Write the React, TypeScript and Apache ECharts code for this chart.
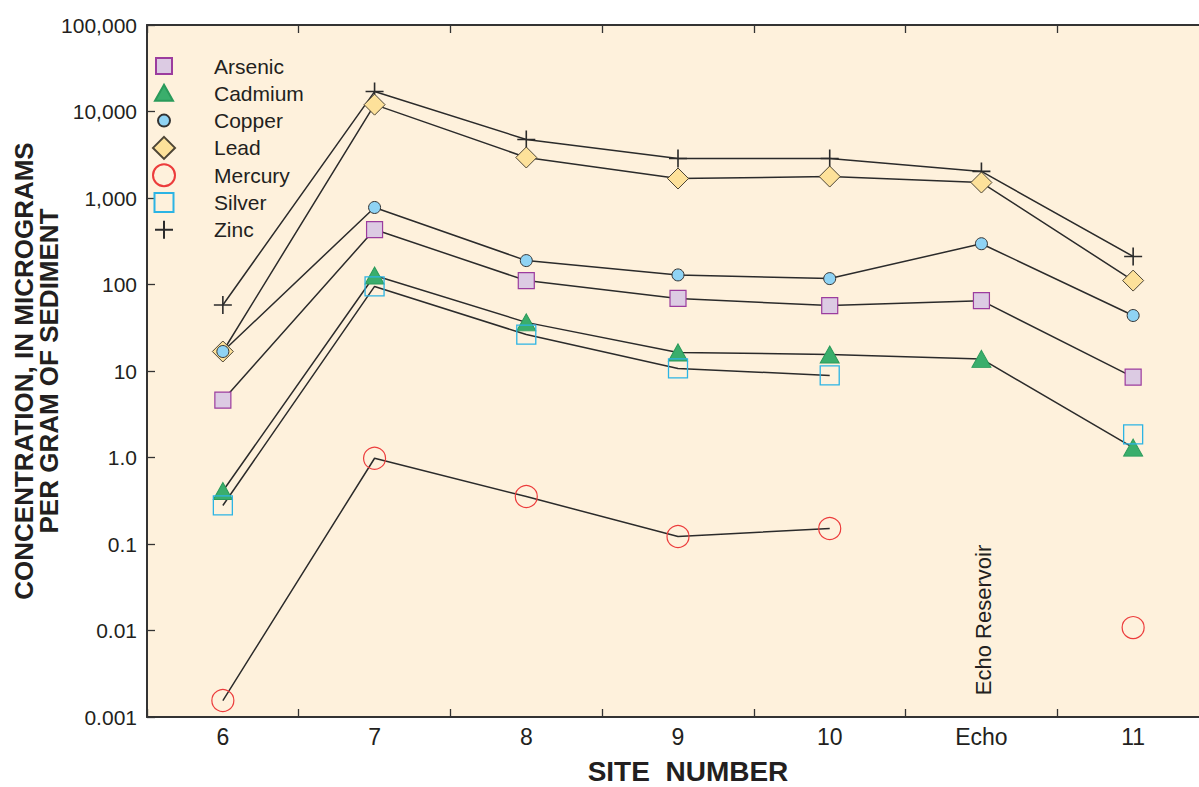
import React, { useEffect, useRef } from "react";
import * as echarts from "echarts";

const sites = ["6", "7", "8", "9", "10", "Echo", "11"];
const arsenic = [4.6, 432, 111, 69, 57, 65, 8.5];
const cadmium = [0.41, 127, 36.5, 16.4, 15.5, 13.8, 1.3];
const copper = [16.8, 777, 189, 129, 117, 296, 43.8];
const lead = [16.8, 12000, 2940, 1680, 1770, 1510, 111];
const mercury = [0.00155, 0.98, 0.354, 0.122, 0.151, null, 0.0108];
const silver = [0.279, 95, 26.4, 10.7, 8.9, null, 1.85];
const zinc = [58, 17000, 4750, 2860, 2860, 2030, 211];
const yTickLabels = ["0.001", "0.01", "0.1", "1.0", "10", "100", "1,000", "10,000", "100,000"];

const FONT = "'Liberation Sans', Arial, Helvetica, sans-serif";
const INK = "#231f20";
const LINE = "#2b2b2b";

const PLUS = "path://M9,0V18M0,9H18";

// legend icons: 57x24 boxes, marker drawn in the left 24x24 part
const box = "M0,0M57,24";
const legendIcons: Record<string, string> = {
  Arsenic: `path://${box}M4,4h16v16h-16z`,
  Cadmium: `path://${box}M12,3.5L21,19.5L3,19.5z`,
  Copper: `path://${box}M6,12a6,6 0 1,0 12,0a6,6 0 1,0 -12,0z`,
  Lead: `path://${box}M12,1L23,12L12,23L1,12z`,
  Mercury: `path://${box}M1,12a11,11 0 1,0 22,0a11,11 0 1,0 -22,0z`,
  Silver: `path://${box}M2.5,2.5h19v19h-19z`,
  Zinc: `path://${box}M12,3V21M3,12H21`,
};

export default function App() {
  const ref = useRef<HTMLDivElement>(null);
  useEffect(() => {
    document.body.style.margin = "0";
    const chart = echarts.init(ref.current!, null, { renderer: "svg" });
    const mk = (
      name: string,
      data: (number | null)[],
      symbol: string,
      symbolSize: number | number[],
      itemStyle: any
    ) => ({
      name,
      type: "line",
      data,
      symbol,
      symbolSize,
      showAllSymbol: true,
      connectNulls: false,
      lineStyle: { color: LINE, width: 1.5 },
      itemStyle,
      emphasis: { disabled: true },
    });
    const series = [
      mk("Zinc", zinc, PLUS, 18, { color: "transparent", borderColor: LINE, borderWidth: 1.6 }),
      mk("Lead", lead, "diamond", 21, { color: "#fde19a", borderColor: "#4d4535", borderWidth: 1 }),
      mk("Copper", copper, "circle", 12, { color: "#8fd3f4", borderColor: "#333", borderWidth: 1 }),
      mk("Arsenic", arsenic, "rect", 16, { color: "#dccbe3", borderColor: "#9c3c9e", borderWidth: 1.2 }),
      mk("Cadmium", cadmium, "triangle", [19, 17], { color: "#3aae6c", borderColor: "#2a9a5a", borderWidth: 1 }),
      mk("Silver", silver, "rect", 19, { color: "transparent", borderColor: "#2cb4e4", borderWidth: 1.3 }),
      mk("Mercury", mercury, "circle", 22, { color: "transparent", borderColor: "#ec3c3c", borderWidth: 1.2 }),
    ];
    const legendOrder = ["Arsenic", "Cadmium", "Copper", "Lead", "Mercury", "Silver", "Zinc"];
    const yAxisBase = {
      type: "log",
      logBase: 10,
      min: 0.001,
      max: 100000,
      interval: 1,
      splitLine: { show: false },
      minorTick: { show: false },
      axisLine: { show: true, lineStyle: { color: "#333", width: 2 } },
      axisTick: { show: true, inside: true, length: 8, lineStyle: { color: "#333", width: 1.3 } },
    };
    chart.setOption({
      animation: false,
      textStyle: { fontFamily: FONT },
      grid: {
        left: 147,
        top: 25,
        width: 1062,
        height: 692,
        show: true,
        backgroundColor: "#fef1dc",
        borderWidth: 0,
        containLabel: false,
        outerBoundsMode: "none",
      },
      legend: {
        orient: "vertical",
        left: 146,
        top: 48,
        itemWidth: 57,
        itemHeight: 24,
        itemGap: 1.3,
        selectedMode: false,
        textStyle: { fontSize: 21, color: INK, fontFamily: FONT, lineHeight: 24 },
        data: legendOrder.map((n) => ({ name: n, icon: legendIcons[n] })),
      },
      xAxis: [
        {
          type: "category",
          data: sites,
          boundaryGap: true,
          name: "SITE  NUMBER",
          nameLocation: "middle",
          nameGap: 40,
          nameMoveOverlap: false,
          nameTextStyle: {
            fontSize: 28,
            fontWeight: "bold",
            color: INK,
            fontFamily: FONT,
            padding: [0, 0, 0, 20],
          },
          axisLine: { show: true, lineStyle: { color: "#333", width: 2 } },
          axisTick: { show: true, inside: true, length: 8, lineStyle: { color: "#333", width: 1.3 } },
          axisLabel: { fontSize: 23, color: INK, margin: 8, fontFamily: FONT },
          splitLine: { show: false },
        },
        {
          type: "category",
          data: sites,
          position: "top",
          boundaryGap: true,
          axisLine: { show: true, lineStyle: { color: "#333", width: 2 } },
          axisTick: { show: true, inside: true, length: 8, lineStyle: { color: "#333", width: 1.3 } },
          axisLabel: { show: false },
          splitLine: { show: false },
        },
      ],
      yAxis: [
        {
          ...yAxisBase,
          position: "left",
          name: "CONCENTRATION, IN MICROGRAMS\nPER GRAM OF SEDIMENT",
          nameLocation: "middle",
          nameGap: 86,
          nameMoveOverlap: false,
          nameTextStyle: {
            fontSize: 26,
            fontWeight: "bold",
            color: INK,
            lineHeight: 25,
            align: "center",
            fontFamily: FONT,
          },
          axisLabel: {
            fontSize: 21,
            color: INK,
            margin: 10,
            fontFamily: FONT,
            formatter: (v: number) => yTickLabels[Math.round(Math.log10(v)) + 3],
          },
        },
        {
          ...yAxisBase,
          position: "right",
          axisLabel: { show: false },
        },
      ],
      graphic: [
        {
          type: "text",
          x: 983,
          y: 620,
          rotation: Math.PI / 2,
          style: {
            text: "Echo Reservoir",
            fontSize: 22,
            fontFamily: FONT,
            fill: INK,
            align: "center",
            verticalAlign: "middle",
          },
        },
      ],
      series,
    });
    return () => chart.dispose();
  }, []);
  return <div ref={ref} style={{ width: 1199, height: 787 }} />;
}
